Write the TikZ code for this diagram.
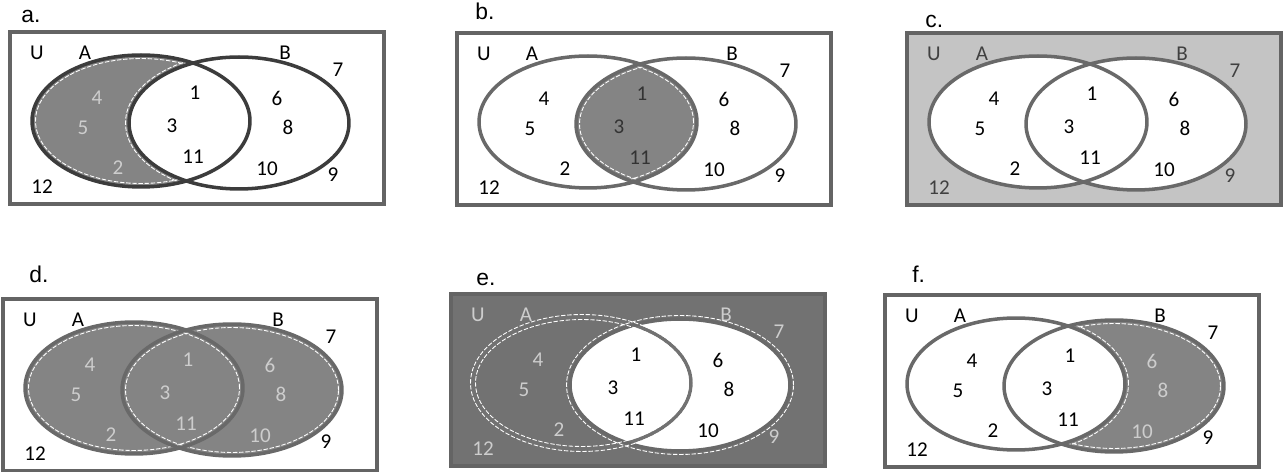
\documentclass[tikz,border=0pt]{standalone}
\usepackage{fontspec}
\setmainfont{Carlito}
\newfontfamily\labelfont{Liberation Sans}
\definecolor{framegray}{RGB}{100,100,100}
\definecolor{linegray}{RGB}{105,105,105}
\definecolor{darkline}{RGB}{60,60,60}
\definecolor{midshade}{RGB}{132,132,132}
\definecolor{paleshade}{RGB}{196,196,196}
\definecolor{deepshade}{RGB}{114,114,114}
\definecolor{txtlight}{RGB}{205,205,205}

% the two sets, #1 = grow (+) or shrink (-) of the radii
\newcommand{\ellA}[1]{(131,89) ellipse [x radius=2.18cm+#1, y radius=1.32cm+#1]}
\newcommand{\ellB}[1]{(229,91) ellipse [x radius=2.2cm+#1, y radius=1.32cm+#1]}
\newcommand{\panelrect}{(0,0) rectangle (374,172)}

\begin{document}
\begin{tikzpicture}[
    x=0.02cm, y=-0.02cm,
    frame/.style={draw=framegray, line width=1.9pt},
    setline/.style={line width=2pt},
    innerdash/.style={white, line width=0.5pt, dash pattern=on 2.5pt off 1pt},
    num/.style={font=\fontsize{12}{14}\selectfont, inner sep=0pt},
    panellabel/.style={font=\labelfont\fontsize{13}{15}\selectfont, anchor=base west, inner sep=0pt}
  ]

    \useasboundingbox (0,0) rectangle (1285,472);

    % a. only A
    \begin{scope}[shift={(10,32)}]
      \fill[midshade] \ellA{0cm};
      \fill[white] \ellB{0cm};
      \draw[innerdash] \ellA{-0.07cm} \ellB{0.07cm};
    \end{scope}

    % b. A and B
    \begin{scope}[shift={(457,33)}]
      \begin{scope}
        \clip \ellA{0cm};
        \fill[midshade] \ellB{0cm};
      \end{scope}
      \draw[innerdash] \ellA{-0.07cm} \ellB{-0.07cm};
    \end{scope}

    % c. outside A or B
    \begin{scope}[shift={(907,33)}]
      \fill[paleshade] \panelrect;
      \fill[white] \ellA{0cm} \ellB{0cm};
    \end{scope}

    % d. A or B
    \begin{scope}[shift={(3,299)}]
      \fill[midshade] \ellA{0cm} \ellB{0cm};
      \draw[innerdash] \ellA{-0.07cm} \ellB{-0.07cm};
    \end{scope}

    % e. not (only A)
    \begin{scope}[shift={(451,294)}]
      \fill[deepshade] \panelrect;
      \fill[white] \ellB{0cm};
    \end{scope}

    % f. only B
    \begin{scope}[shift={(885,295)}]
      \fill[midshade] \ellB{0cm};
      \fill[white] \ellA{0cm};
      \draw[innerdash] \ellB{-0.07cm} \ellA{0.07cm};
    \end{scope}

    % frames, outlines and elements of every panel
    \foreach \id/\px/\py/\lx/\ly/\lcA/\lcB/\tcO/\tcA/\tcAB/\tcB in {
        a/10/32/11/-9/darkline/darkline/black/txtlight/black/black,
        b/457/33/18/-13/linegray/linegray/black/black/black!80/black,
        c/907/33/18/-5/linegray/linegray/black!75/black/black/black,
        d/3/299/26/-16/linegray/linegray/black/txtlight/txtlight/txtlight,
        e/451/294/25/-8/deepshade/linegray/txtlight/txtlight/black/black,
        f/885/295/27/-12/linegray/linegray/black/black/black/txtlight} {
      \begin{scope}[shift={(\px,\py)}]
        \draw[frame] \panelrect;
        \draw[setline, draw=\lcA] \ellA{0cm};
        \draw[setline, draw=\lcB] \ellB{0cm};
        \node[panellabel] (\id-label) at (\lx,\ly) {\id.};
        \foreach \t/\u/\v in {U/27/21, A/75/21, B/275/21, 7/328/38, 9/323/143, 12/32/155}
          \node[num, text=\tcO] (\id-\t) at (\u,\v) {\t};
        \foreach \t/\u/\v in {4/87/66, 5/73/96, 2/108/136}
          \node[num, text=\tcA] (\id-\t) at (\u,\v) {\t};
        \foreach \t/\u/\v in {1/185/61, 3/162/94, 11/183/125}
          \node[num, text=\tcAB] (\id-\t) at (\u,\v) {\t};
        \foreach \t/\u/\v in {6/267/66, 8/278/95, 10/257/137}
          \node[num, text=\tcB] (\id-\t) at (\u,\v) {\t};
      \end{scope}
    }

    % e. ghost edges of A and B
    \begin{scope}[shift={(451,294)}]
      \draw[innerdash] \ellA{0.05cm} \ellA{-0.05cm} \ellB{0.07cm};
    \end{scope}

  \end{tikzpicture}
\end{document}
